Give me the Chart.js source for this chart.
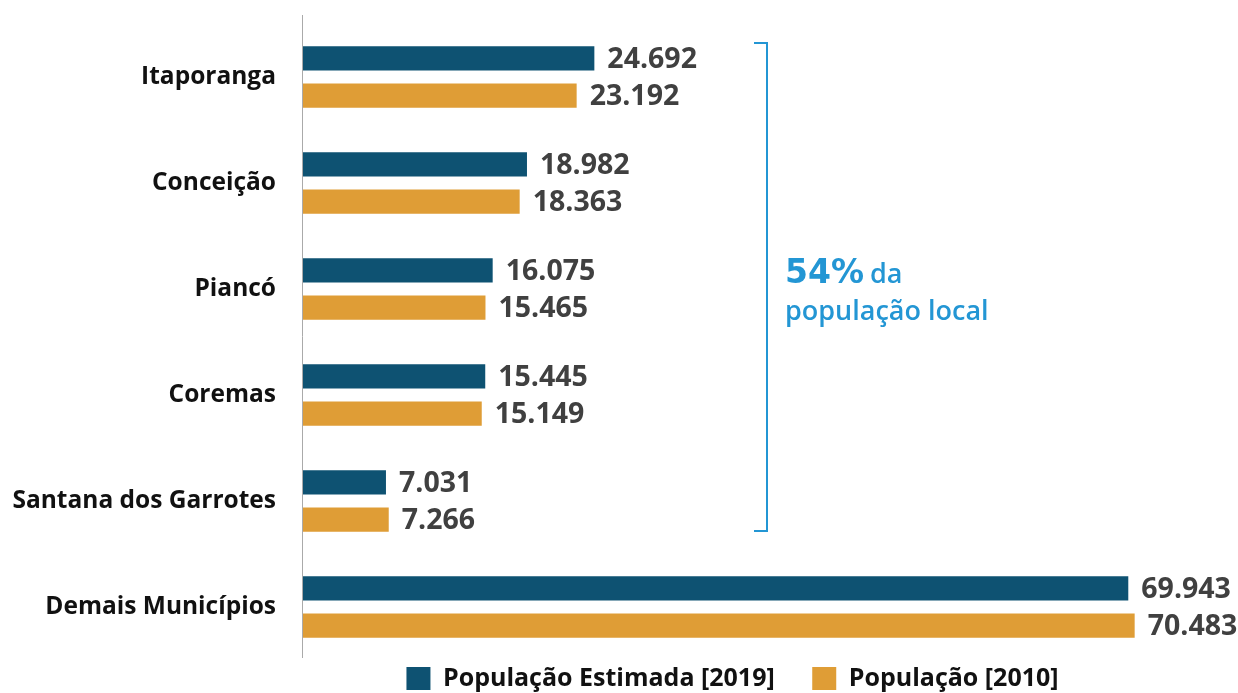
<!DOCTYPE html>
<html>
<head>
<meta charset="utf-8">
<script src="https://cdn.jsdelivr.net/npm/chart.js@4.4.1/dist/chart.umd.min.js"></script>
<style>
  html, body { margin: 0; padding: 0; background: #ffffff; }
  #wrap { width: 1238px; height: 693px; position: relative; }
</style>
</head>
<body>
<div id="wrap"><canvas id="c" width="1238" height="693"></canvas></div>
<script>
const categories = ["Itaporanga", "Conceição", "Piancó", "Coremas", "Santana dos Garrotes", "Demais Municípios"];
const seriesNames = ["População Estimada [2019]", "População [2010]"];
const pop2019 = [24692, 18982, 16075, 15445, 7031, 69943];
const pop2010 = [23192, 18363, 15465, 15149, 7266, 70483];
const bracketLabelBig = "54%";
const bracketLabelSmall = "da";
const bracketLabelLine2 = "população local";

const COLOR_2019 = "#0e5272";
const COLOR_2010 = "#df9d36";
const ACCENT = "#2396d4";
const FONT = "'Open Sans', 'Noto Sans', sans-serif";

function fmt(v) {
  return String(v).replace(/\B(?=(\d{3})+(?!\d))/g, ".");
}

const valueLabels = {
  id: "valueLabels",
  afterDatasetsDraw(chart) {
    const ctx = chart.ctx;
    ctx.save();
    ctx.font = "700 28.5px " + FONT;
    ctx.fillStyle = "#404040";
    ctx.textAlign = "left";
    ctx.textBaseline = "middle";
    chart.data.datasets.forEach((ds, di) => {
      const meta = chart.getDatasetMeta(di);
      meta.data.forEach((el, i) => {
        ctx.fillText(fmt(ds.data[i]), el.x + 13, el.y + 1);
      });
    });
    ctx.restore();
  }
};

const axisLine = {
  id: "axisLine",
  beforeDatasetsDraw(chart) {
    const ctx = chart.ctx, a = chart.chartArea;
    ctx.save();
    ctx.strokeStyle = "#aaaaaa";
    ctx.lineWidth = 1;
    ctx.beginPath();
    ctx.moveTo(a.left - 0.5, a.top - 9);
    ctx.lineTo(a.left - 0.5, a.bottom - 2);
    ctx.stroke();
    ctx.restore();
  }
};

const bracket = {
  id: "bracket",
  afterDraw(chart) {
    const ctx = chart.ctx;
    const m0 = chart.getDatasetMeta(0), m1 = chart.getDatasetMeta(1);
    const topEl = m0.data[0], botEl = m1.data[4];
    const top = Math.round(topEl.y - topEl.height / 2 - 3.5);
    const bot = Math.round(botEl.y + botEl.height / 2 - 1);
    const x = Math.round(chart.scales.x.getPixelForValue(39300));
    ctx.save();
    ctx.strokeStyle = ACCENT;
    ctx.lineWidth = 2;
    ctx.beginPath();
    ctx.moveTo(x - 13, top);
    ctx.lineTo(x, top);
    ctx.lineTo(x, bot);
    ctx.lineTo(x - 13, bot);
    ctx.stroke();
    const mid = (top + bot) / 2;
    ctx.fillStyle = ACCENT;
    ctx.textAlign = "left";
    ctx.textBaseline = "alphabetic";
    const tx = x + 18;
    ctx.font = "700 33px 'DejaVu Sans', 'Open Sans', sans-serif";
    ctx.fillText(bracketLabelBig, tx, mid - 4);
    const w = ctx.measureText(bracketLabelBig).width;
    ctx.font = "600 27px " + FONT;
    ctx.fillText(bracketLabelSmall, tx + w + 6, mid - 4);
    ctx.fillText(bracketLabelLine2, tx, mid + 33);
    ctx.restore();
  }
};

new Chart(document.getElementById("c"), {
  type: "bar",
  data: {
    labels: categories,
    datasets: [
      { label: seriesNames[0], data: pop2019, backgroundColor: COLOR_2019, categoryPercentage: 0.70, barPercentage: 0.655 },
      { label: seriesNames[1], data: pop2010, backgroundColor: COLOR_2010, categoryPercentage: 0.70, barPercentage: 0.655 }
    ]
  },
  options: {
    indexAxis: "y",
    responsive: false,
    animation: false,
    layout: { padding: { top: 24, right: 76, left: 0, bottom: -8 } },
    scales: {
      x: { display: false, min: 0, max: 72800 },
      y: {
        grid: { display: false, drawTicks: false },
        border: { display: false },
        ticks: { color: "#111111", font: { family: FONT, weight: "700", size: 24.5 }, padding: 27 },
        afterFit(scale) { scale.width = 303; scale.paddingTop = 0; scale.paddingBottom = 0; }
      }
    },
    plugins: {
      tooltip: { enabled: false },
      legend: {
        position: "bottom",
        fullSize: false,
        labels: {
          color: "#111111",
          font: { family: FONT, weight: "700", size: 25 },
          boxWidth: 24,
          boxHeight: 23,
          padding: 6,
          generateLabels(chart) {
            const items = Chart.defaults.plugins.legend.labels.generateLabels(chart);
            items.forEach((it, i) => {
              it.lineWidth = 0;
              if (i < items.length - 1) it.text = it.text + "\u2003\u00a0";
            });
            return items;
          }
        }
      }
    }
  },
  plugins: [axisLine, valueLabels, bracket]
});
</script>
</body>
</html>
